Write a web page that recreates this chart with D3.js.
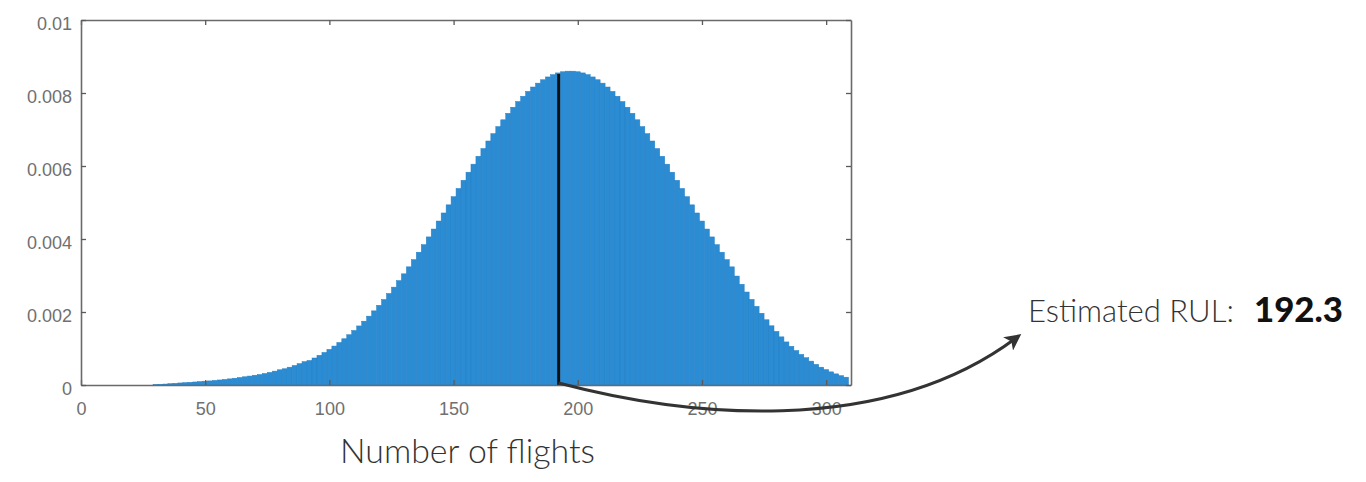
<!DOCTYPE html>
<html>
<head>
<meta charset="utf-8">
<script src="https://cdn.jsdelivr.net/npm/d3@7"></script>
<style>
  html, body { margin: 0; padding: 0; background: #fff; }
  svg { display: block; }
</style>
</head>
<body>
<svg id="chart" width="1366" height="482"></svg>
<script>
// ---- data ----
const flights = [30,32,34,36,38,40,42,44,46,48,50,52,54,56,58,60,62,64,66,68,70,72,74,76,78,80,82,84,86,88,90,92,94,96,98,100,102,104,106,108,110,112,114,116,118,120,122,124,126,128,130,132,134,136,138,140,142,144,146,148,150,152,154,156,158,160,162,164,166,168,170,172,174,176,178,180,182,184,186,188,190,192,194,196,198,200,202,204,206,208,210,212,214,216,218,220,222,224,226,228,230,232,234,236,238,240,242,244,246,248,250,252,254,256,258,260,262,264,266,268,270,272,274,276,278,280,282,284,286,288,290,292,294,296,298,300,302,304,306,308];
const density = [
  0.000008,0.000016,0.000026,0.000036,0.000046,0.000056,0.000065,0.000074,0.000083,0.000094,
  0.000104,0.000112,0.000125,0.000138,0.000153,0.000168,0.000186,0.000205,0.000225,0.000245,
  0.000268,0.000287,0.000315,0.000346,0.000380,0.000417,0.000445,0.000488,0.000535,0.000585,
  0.000640,0.000672,0.000740,0.000813,0.000892,0.000976,0.001067,0.001164,0.001267,0.001377,
  0.001494,0.001618,0.001748,0.001886,0.002031,0.002183,0.002342,0.002508,0.002681,0.002860,
  0.003046,0.003237,0.003435,0.003638,0.003845,0.004057,0.004273,0.004492,0.004713,0.004936,
  0.005160,0.005384,0.005608,0.005830,0.006050,0.006266,0.006478,0.006685,0.006886,0.007080,
  0.007266,0.007443,0.007610,0.007766,0.007911,0.008044,0.008164,0.008270,0.008363,0.008440,
  0.008503,0.008550,0.008582,0.008598,0.008598,0.008582,0.008550,0.008503,0.008440,0.008363,
  0.008270,0.008164,0.008044,0.007911,0.007766,0.007610,0.007443,0.007266,0.007080,0.006886,
  0.006685,0.006478,0.006266,0.006050,0.005830,0.005608,0.005384,0.005160,0.004936,0.004713,
  0.004492,0.004273,0.004057,0.003845,0.003638,0.003435,0.003237,0.002985,0.002760,0.002547,
  0.002345,0.002155,0.001965,0.001787,0.001622,0.001468,0.001319,0.001180,0.001060,0.000944,
  0.000838,0.000747,0.000654,0.000566,0.000488,0.000422,0.000360,0.000305,0.000256,0.000214
];
const xTicks = [0, 50, 100, 150, 200, 250, 300];
const yTicks = [0, 0.002, 0.004, 0.006, 0.008, 0.01];
const yTickLabels = ["0", "0.002", "0.004", "0.006", "0.008", "0.01"];
const xDomain = [0, 310];
const yDomain = [0, 0.01];
const rulValue = 192.3;
const rulDensity = 0.00852;
const xLabel = "Number of flights";
const annoText = "Estimated RUL:";
const annoValue = "192.3";

// ---- layout ----
const svg = d3.select("#chart");
const plot = { left: 81, right: 851, top: 20, bottom: 385 };
const x = d3.scaleLinear().domain(xDomain).range([plot.left, plot.right]);
const y = d3.scaleLinear().domain(yDomain).range([plot.bottom, plot.top]);
const barW = x(2) - x(0);

// bars
svg.append("g")
  .selectAll("rect")
  .data(flights.map((f, i) => ({ f, v: density[i] })))
  .join("rect")
  .attr("x", d => x(d.f - 1))
  .attr("width", barW)
  .attr("y", d => y(d.v))
  .attr("height", d => y(0) - y(d.v))
  .attr("fill", "#2b8cd3")
  .attr("stroke", "#2680c6")
  .attr("stroke-width", 0.5);

// RUL line
svg.append("line")
  .attr("x1", x(rulValue)).attr("x2", x(rulValue))
  .attr("y1", y(0)).attr("y2", y(rulDensity))
  .attr("stroke", "#111").attr("stroke-width", 3);

// axes (MATLAB-like box with inner ticks)
const tickColor = "#5a5a5a";
const fontTick = "Liberation Sans, Arial, sans-serif";
const xAxisB = d3.axisBottom(x).tickValues(xTicks).tickSizeInner(-5).tickSizeOuter(0).tickPadding(12);
const gxb = svg.append("g").attr("transform", `translate(0,${plot.bottom})`).call(xAxisB);
const xAxisT = d3.axisTop(x).tickValues(xTicks).tickSizeInner(-5).tickSizeOuter(0).tickFormat("");
const gxt = svg.append("g").attr("transform", `translate(0,${plot.top})`).call(xAxisT);
const yAxisL = d3.axisLeft(y).tickValues(yTicks).tickSizeInner(-5).tickSizeOuter(0).tickPadding(9)
  .tickFormat((d, i) => yTickLabels[i]);
const gyl = svg.append("g").attr("transform", `translate(${plot.left},0)`).call(yAxisL);
const yAxisR = d3.axisRight(y).tickValues(yTicks).tickSizeInner(-5).tickSizeOuter(0).tickFormat("");
const gyr = svg.append("g").attr("transform", `translate(${plot.right},0)`).call(yAxisR);

[gxb, gxt, gyl, gyr].forEach(g => {
  g.select(".domain").attr("stroke", "#6a6a6a").attr("stroke-width", 1.6);
  g.selectAll(".tick line").attr("stroke", tickColor).attr("stroke-width", 1.3);
  g.selectAll(".tick text").attr("fill", "#707070").attr("font-family", fontTick).attr("font-size", 18);
});
gyl.selectAll(".tick text").attr("dy", "0.55em");
gxb.selectAll(".tick text").attr("dy", "1em");

// text helper: fit font size to a target width
function fitText(sel, targetW, startSize) {
  sel.attr("font-size", startSize);
  const w = sel.node().getComputedTextLength();
  if (w > 0) sel.attr("font-size", startSize * targetW / w);
  return sel;
}

const fontLight = "Lato, 'Open Sans', sans-serif";
// x label
fitText(svg.append("text")
  .attr("x", 340).attr("y", 463)
  .attr("font-family", fontLight).attr("font-weight", 300)
  .attr("fill", "#333")
  .text(xLabel), 255, 33);

// annotation text
fitText(svg.append("text")
  .attr("x", 1028).attr("y", 322)
  .attr("font-family", fontLight).attr("font-weight", 300)
  .attr("fill", "#333")
  .text(annoText), 206, 34);
fitText(svg.append("text")
  .attr("x", 1254).attr("y", 322)
  .attr("font-family", "Lato, 'DejaVu Sans', sans-serif").attr("font-weight", 900)
  .attr("fill", "#111")
  .text(annoValue), 89, 34);

// arrow
const defs = svg.append("defs");
defs.append("marker")
  .attr("id", "arrowhead")
  .attr("viewBox", "0 0 10 10")
  .attr("refX", 6).attr("refY", 5)
  .attr("markerWidth", 5.5).attr("markerHeight", 5.5)
  .attr("orient", "auto-start-reverse")
  .attr("markerUnits", "strokeWidth")
  .append("path")
  .attr("d", "M0,0 L10,5 L0,10 L2.5,5 Z")
  .attr("fill", "#333");

const p = d3.path();
p.moveTo(x(rulValue), y(0) - 2);
p.bezierCurveTo(680, 415, 880, 440, 1016, 338);
svg.append("path")
  .attr("d", p.toString())
  .attr("fill", "none")
  .attr("stroke", "#333")
  .attr("stroke-width", 3)
  .attr("marker-end", "url(#arrowhead)");
</script>
</body>
</html>
